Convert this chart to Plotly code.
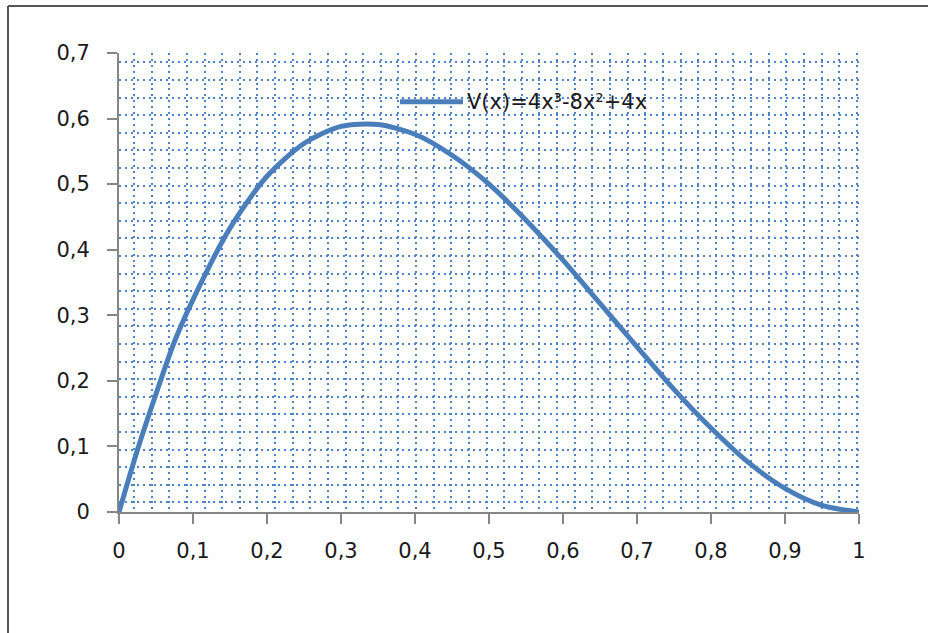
import plotly.graph_objects as go

# Values
x_vals = [0, 0.025, 0.05, 0.075, 0.1, 0.15, 0.2, 0.25, 0.3, 0.35, 0.4, 0.45, 0.5,
          0.55, 0.6, 0.65, 0.7, 0.75, 0.8, 0.85, 0.9, 0.95, 1.0]
y_vals = [0, 0.095, 0.18, 0.26, 0.324, 0.433, 0.512, 0.562, 0.588, 0.591, 0.576, 0.544, 0.5,
          0.445, 0.384, 0.318, 0.252, 0.187, 0.128, 0.076, 0.036, 0.01, 0]
series_name = "V(x)=4x³-8x²+4x"
x_ticks = [0, 0.1, 0.2, 0.3, 0.4, 0.5, 0.6, 0.7, 0.8, 0.9, 1]
y_ticks = [0, 0.1, 0.2, 0.3, 0.4, 0.5, 0.6, 0.7]

LINE_COLOR = "#4A7EBB"
GRID_COLOR = "rgb(80,130,198)"
AXIS_COLOR = "#868686"
FONT = dict(family="DejaVu Sans", size=21, color="#1a1a1a")

fig = go.Figure()
fig.add_trace(go.Scatter(
    x=x_vals, y=y_vals, mode="lines", name=series_name,
    line=dict(color=LINE_COLOR, width=5, shape="spline", smoothing=0.8),
    showlegend=False,
))

grid_common = dict(showgrid=True, gridcolor=GRID_COLOR, gridwidth=2,
                   griddash="2px,3.9px", ticks="")

fig.update_layout(
    width=928, height=633,
    margin=dict(l=119, r=69, t=53, b=121, pad=0),
    paper_bgcolor="white", plot_bgcolor="white",
    separators=", ",
    font=FONT,
    xaxis=dict(
        range=[0, 1], tickvals=x_ticks, showgrid=False, zeroline=False,
        showline=True, linecolor=AXIS_COLOR, linewidth=2,
        ticks="outside", ticklen=10, tickwidth=2, tickcolor=AXIS_COLOR,
        ticklabelstandoff=9, tickfont=FONT,
        minor=dict(tick0=0.02027, dtick=0.023824, **grid_common),
    ),
    yaxis=dict(
        range=[0, 0.7], tickvals=y_ticks, showgrid=False, zeroline=False,
        showline=True, linecolor=AXIS_COLOR, linewidth=2,
        ticks="outside", ticklen=10, tickwidth=2, tickcolor=AXIS_COLOR,
        ticklabelstandoff=13, tickfont=FONT,
        minor=dict(tick0=0.0148, dtick=0.02684, **grid_common),
    ),
)

# Legend (sample line + label) placed as in the reference
ly = (512 - 101.7) / 459
fig.add_shape(type="line", xref="paper", yref="paper",
              x0=(400 - 119) / 740, x1=(463 - 119) / 740, y0=ly, y1=ly,
              line=dict(color=LINE_COLOR, width=5))
fig.add_annotation(xref="paper", yref="paper", x=(465 - 119) / 740, y=ly,
                   xanchor="left", yanchor="middle", showarrow=False,
                   text=series_name, font=FONT)

# Chart-area border (left and top edges visible)
fig.add_shape(type="line", xref="paper", yref="paper",
              x0=(8 - 119) / 740, x1=(8 - 119) / 740, y0=(512 - 6) / 459, y1=-0.4,
              line=dict(color="#555555", width=2))
fig.add_shape(type="line", xref="paper", yref="paper",
              x0=(8 - 119) / 740, x1=1.2, y0=(512 - 6) / 459, y1=(512 - 6) / 459,
              line=dict(color="#555555", width=2))

fig.write_html("out.html")
